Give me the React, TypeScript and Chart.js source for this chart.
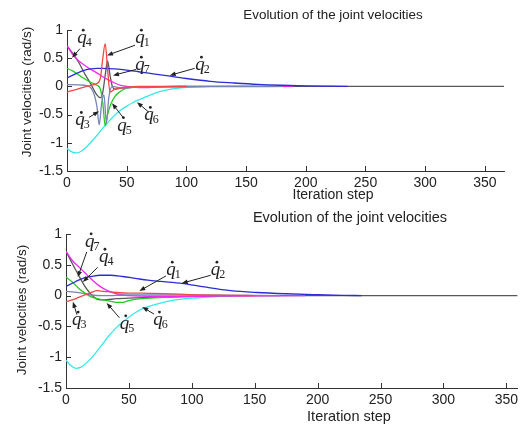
import React, { useEffect, useRef } from "react";
import { Chart, registerables } from "chart.js";

Chart.register(...registerables);

// ---------- text ----------
const TITLE = "Evolution of the joint velocities";
const X_LABEL = "Iteration step";
const Y_LABEL = "Joint velocities (rad/s)";

// ---------- ticks ----------
const Y_TICKS = [-1.5, -1, -0.5, 0, 0.5, 1];
const X_TICKS = [0, 50, 100, 150, 200, 250, 300, 350];
const SERIES_IDS = ["1", "2", "3", "4", "5", "6", "7"];

// ---------- top plot data ----------
const topQ1X = [0, 5, 10, 15, 20, 25, 28, 30, 32, 34, 36, 40, 45, 50, 60, 80, 100];
const topQ1Y = [-0.1, -0.07, -0.04, -0.01, 0.02, 0.05, 0.15, 0.5, 0.76, 0.3, -0.1, -0.05, -0.03, -0.015, 0, 0, 0];
const topQ2X = [0, 5, 10, 15, 20, 25, 30, 40, 50, 60, 70, 80, 90, 100, 120, 140, 160, 180, 200, 220, 235];
const topQ2Y = [0.15, 0.2, 0.25, 0.29, 0.31, 0.32, 0.32, 0.31, 0.29, 0.26, 0.23, 0.2, 0.17, 0.14, 0.09, 0.06, 0.035, 0.02, 0.01, 0.004, 0];
const topQ3X = [0, 15, 22, 25, 27, 29, 31, 33, 35, 38, 45, 60, 100, 180];
const topQ3Y = [0.03, 0.02, -0.1, -0.35, -0.68, -0.3, -0.15, -0.65, -0.2, 0, -0.03, -0.01, 0, 0];
const topQ4X = [0, 5, 10, 15, 20, 25, 30, 35, 40, 45, 50, 60, 80, 120, 190];
const topQ4Y = [0.72, 0.56, 0.45, 0.37, 0.3, 0.24, 0.17, 0.11, 0.06, 0.02, 0, -0.02, -0.01, -0.005, 0];
const topQ5X = [0, 5, 10, 15, 20, 25, 28, 30, 32, 34, 37, 40, 44, 50, 60, 80, 100];
const topQ5Y = [0.32, 0.27, 0.2, 0.13, 0.07, 0.02, -0.05, -0.3, -0.7, -0.5, -0.3, -0.18, -0.1, -0.03, -0.01, -0.005, 0];
const topQ6X = [0, 4, 8, 12, 16, 20, 25, 30, 35, 40, 45, 50, 55, 60, 70, 80, 90, 100, 120, 150];
const topQ6Y = [-1.1, -1.16, -1.18, -1.15, -1.08, -0.99, -0.87, -0.74, -0.62, -0.51, -0.42, -0.35, -0.29, -0.24, -0.15, -0.08, -0.04, -0.015, 0, 0];
const topQ7X = [0, 5, 10, 15, 20, 25, 28, 30, 32, 34, 36, 38, 40, 45, 50, 70, 100, 366];
const topQ7Y = [0.72, 0.58, 0.42, 0.22, 0.04, -0.15, -0.2, -0.1, 0.2, 0.45, 0.2, 0, -0.05, -0.03, -0.02, -0.01, 0, 0];

// ---------- bottom plot data ----------
const botQ1X = [0, 5, 10, 15, 20, 25, 30, 40, 50, 60, 70, 90, 100, 130, 150];
const botQ1Y = [-0.1, -0.07, -0.03, 0.01, 0.05, 0.08, 0.07, 0.05, 0.04, 0.04, 0.035, 0.025, 0.015, 0.005, 0];
const botQ2X = [0, 5, 10, 15, 20, 27, 35, 45, 55, 65, 75, 92, 110, 131, 152, 175, 200, 220, 235];
const botQ2Y = [0.15, 0.2, 0.25, 0.29, 0.31, 0.33, 0.33, 0.31, 0.28, 0.25, 0.23, 0.2, 0.14, 0.08, 0.05, 0.03, 0.015, 0.005, 0];
const botQ3X = [0, 5, 10, 15, 20, 30, 50, 100, 170];
const botQ3Y = [0.07, 0.06, 0.05, 0.03, 0.01, 0, 0.01, 0.01, 0];
const botQ4X = [0, 5, 11, 15, 20, 27, 33, 40, 50, 60, 80, 120, 160, 190];
const botQ4Y = [0.72, 0.57, 0.45, 0.37, 0.27, 0.15, 0.08, 0.03, 0, -0.01, -0.015, -0.01, -0.005, 0];
const botQ5X = [0, 5, 10, 15, 20, 25, 30, 35, 40, 45, 50, 60, 80, 100, 130];
const botQ5Y = [0.3, 0.22, 0.12, 0.04, -0.02, -0.05, -0.07, -0.09, -0.11, -0.11, -0.08, -0.05, -0.03, -0.015, 0];
const botQ6X = [0, 4, 8, 12, 17, 22, 27, 33, 40, 47, 54, 61, 70, 79, 90, 105, 120, 140];
const botQ6Y = [-1.05, -1.14, -1.18, -1.16, -1.08, -0.97, -0.84, -0.68, -0.52, -0.4, -0.29, -0.21, -0.15, -0.1, -0.06, -0.035, -0.015, 0];
const botQ7X = [0, 5, 10, 15, 20, 25, 30, 40, 50, 70, 100, 140, 359];
const botQ7Y = [0.72, 0.52, 0.33, 0.15, 0.02, -0.06, -0.07, -0.05, -0.04, -0.03, -0.01, 0, 0];

// ---------- annotation labels (series id, text x/y, arrow from x/y, arrow to x/y in data units) ----------
const TOP_NOTES: [string, number, number, number, number, number, number][] = [
  ["4", 15, 0.82, 10.9, 0.67, 4.2, 0.51],
  ["1", 63.7, 0.82, 57, 0.73, 33.5, 0.55],
  ["7", 63.7, 0.34, 57.8, 0.3, 38.5, 0.195],
  ["2", 114, 0.34, 107, 0.32, 86, 0.195],
  ["3", 13.4, -0.64, 18.4, -0.55, 26.8, -0.44],
  ["5", 48.6, -0.73, 47.7, -0.57, 37.7, -0.3],
  ["6", 71.2, -0.55, 68.7, -0.46, 58.6, -0.28],
];
const BOT_NOTES: [string, number, number, number, number, number, number][] = [
  ["7", 21.3, 0.84, 16.5, 0.71, 9.4, 0.3],
  ["4", 32.3, 0.59, 25.2, 0.46, 13.4, 0.22],
  ["1", 85.8, 0.38, 79.5, 0.32, 58.3, 0.075],
  ["2", 121.3, 0.38, 115, 0.33, 92, 0.2],
  ["3", 11, -0.43, 8.7, -0.31, 5.5, -0.1],
  ["5", 48.8, -0.49, 42.5, -0.36, 32.3, -0.12],
  ["6", 75.6, -0.43, 70, -0.3, 60.6, -0.185],
];

// ---------- styles ----------
const COLORS = ["#f04848", "#2c2cd8", "#7884b4", "#f028f0", "#22cc22", "#38e8e8", "#585858"];
const AXIS_COLOR = "#333333";
const TEXT_COLOR = "#222222";
const SANS = "'Liberation Sans', Arial, sans-serif";
const SERIF = "'Liberation Serif', 'Times New Roman', serif";

type Layout = {
  width: number;
  height: number;
  top: number;
  left: number;
  xMax: number;
  padTop: number;
  padRight: number;
  xAxisH: number;
  yAxisW: number;
  title: [number, number, number];
  xlab: [number, number, number];
  ylab: [number, number, number];
};

const TOP_LAYOUT: Layout = {
  width: 522, height: 205, top: 0, left: 0, xMax: 366,
  padTop: 30, padRight: 18, xAxisH: 34, yAxisW: 67,
  title: [333, 15, 13.4], xlab: [333, 195, 14], ylab: [27, 92, 13.5],
};
const BOT_LAYOUT: Layout = {
  width: 522, height: 223, top: 205, left: 0, xMax: 359,
  padTop: 29, padRight: 0, xAxisH: 40, yAxisW: 66,
  title: [350, 13, 14.5], xlab: [349, 212, 14.5], ylab: [22, 105, 13.5],
};

function drawQ(ctx: CanvasRenderingContext2D, cx: number, cy: number, n: string) {
  ctx.font = `italic 19px ${SERIF}`;
  ctx.textAlign = "left";
  ctx.textBaseline = "alphabetic";
  const w = ctx.measureText("q").width;
  const x0 = cx - (w + 6) / 2;
  const base = cy + 3;
  ctx.fillText("q", x0, base);
  ctx.beginPath();
  ctx.arc(x0 + w * 0.64, base - 13, 1.4, 0, Math.PI * 2);
  ctx.fill();
  ctx.font = `12px ${SERIF}`;
  ctx.fillText(n, x0 + w - 1, base + 3);
}

function drawArrow(ctx: CanvasRenderingContext2D, x1: number, y1: number, x2: number, y2: number) {
  const a = Math.atan2(y2 - y1, x2 - x1);
  ctx.beginPath();
  ctx.moveTo(x1, y1);
  ctx.lineTo(x2 - 3 * Math.cos(a), y2 - 3 * Math.sin(a));
  ctx.stroke();
  const L = 6, W = 2.3;
  ctx.beginPath();
  ctx.moveTo(x2, y2);
  ctx.lineTo(x2 - L * Math.cos(a) + W * Math.sin(a), y2 - L * Math.sin(a) - W * Math.cos(a));
  ctx.lineTo(x2 - L * Math.cos(a) - W * Math.sin(a), y2 - L * Math.sin(a) + W * Math.cos(a));
  ctx.closePath();
  ctx.fill();
}

function makeChart(
  canvas: HTMLCanvasElement,
  xsList: number[][],
  ysList: number[][],
  notes: [string, number, number, number, number, number, number][],
  L: Layout
) {
  const datasets = xsList.map((xs, i) => ({
    label: "q" + SERIES_IDS[i],
    data: xs.map((x, j) => ({ x, y: ysList[i][j] })),
    borderColor: COLORS[i],
    backgroundColor: COLORS[i],
    borderWidth: 1.3,
    pointRadius: 0,
    cubicInterpolationMode: "monotone" as const,
    fill: false,
  }));

  const overlay = {
    id: "overlay",
    afterDraw(chart: any) {
      const ctx: CanvasRenderingContext2D = chart.ctx;
      const xs = chart.scales.x;
      const ys = chart.scales.y;
      const a = chart.chartArea;
      ctx.save();
      // inward tick marks
      ctx.strokeStyle = AXIS_COLOR;
      ctx.lineWidth = 1;
      ctx.beginPath();
      for (const v of X_TICKS) {
        if (v > L.xMax) continue;
        const p = Math.round(xs.getPixelForValue(v)) + 0.5;
        ctx.moveTo(p, a.bottom);
        ctx.lineTo(p, a.bottom - 5);
      }
      for (const v of Y_TICKS) {
        const p = Math.round(ys.getPixelForValue(v)) + 0.5;
        ctx.moveTo(a.left, p);
        ctx.lineTo(a.left + 5, p);
      }
      ctx.stroke();

      // title and axis labels
      ctx.fillStyle = TEXT_COLOR;
      ctx.textAlign = "center";
      ctx.textBaseline = "middle";
      ctx.font = `${L.title[2]}px ${SANS}`;
      ctx.fillText(TITLE, L.title[0], L.title[1]);
      ctx.font = `${L.xlab[2]}px ${SANS}`;
      ctx.fillText(X_LABEL, L.xlab[0], L.xlab[1]);
      ctx.save();
      ctx.translate(L.ylab[0], L.ylab[1]);
      ctx.rotate(-Math.PI / 2);
      ctx.font = `${L.ylab[2]}px ${SANS}`;
      ctx.fillText(Y_LABEL, 0, 0);
      ctx.restore();

      // annotations
      ctx.strokeStyle = "#222";
      ctx.fillStyle = "#222";
      ctx.lineWidth = 1;
      for (const [n, tx, ty, fx, fy, px, py] of notes) {
        drawArrow(
          ctx,
          xs.getPixelForValue(fx), ys.getPixelForValue(fy),
          xs.getPixelForValue(px), ys.getPixelForValue(py)
        );
        drawQ(ctx, xs.getPixelForValue(tx), ys.getPixelForValue(ty), n);
      }
      ctx.restore();
    },
  };

  return new Chart(canvas, {
    type: "line",
    data: { datasets },
    plugins: [overlay],
    options: {
      animation: false,
      responsive: false,
      maintainAspectRatio: false,
      layout: { padding: { top: L.padTop, right: L.padRight, left: 0, bottom: 0 } },
      plugins: { legend: { display: false }, tooltip: { enabled: false }, title: { display: false } },
      scales: {
        x: {
          type: "linear",
          min: 0,
          max: L.xMax,
          afterFit: (s: any) => { s.height = L.xAxisH; },
          ticks: {
            stepSize: 50,
            includeBounds: false,
            padding: 4,
            maxRotation: 0,
            autoSkip: false,
            color: TEXT_COLOR,
            font: { family: SANS, size: 14 },
          },
          grid: { display: false, drawTicks: false },
          border: { display: true, color: AXIS_COLOR, width: 1 },
        },
        y: {
          type: "linear",
          min: -1.5,
          max: 1,
          afterFit: (s: any) => { s.width = L.yAxisW; },
          ticks: {
            stepSize: 0.5,
            padding: 4,
            autoSkip: false,
            color: TEXT_COLOR,
            font: { family: SANS, size: 14 },
            callback: (v: any) => String(Number(v)),
          },
          grid: { display: false, drawTicks: false },
          border: { display: true, color: AXIS_COLOR, width: 1 },
        },
      },
    } as any,
  });
}

export default function App() {
  const topRef = useRef<HTMLCanvasElement | null>(null);
  const botRef = useRef<HTMLCanvasElement | null>(null);

  useEffect(() => {
    const c1 = makeChart(
      topRef.current!,
      [topQ1X, topQ2X, topQ3X, topQ4X, topQ5X, topQ6X, topQ7X],
      [topQ1Y, topQ2Y, topQ3Y, topQ4Y, topQ5Y, topQ6Y, topQ7Y],
      TOP_NOTES,
      TOP_LAYOUT
    );
    const c2 = makeChart(
      botRef.current!,
      [botQ1X, botQ2X, botQ3X, botQ4X, botQ5X, botQ6X, botQ7X],
      [botQ1Y, botQ2Y, botQ3Y, botQ4Y, botQ5Y, botQ6Y, botQ7Y],
      BOT_NOTES,
      BOT_LAYOUT
    );
    return () => {
      c1.destroy();
      c2.destroy();
    };
  }, []);

  return (
    <div style={{ position: "absolute", left: 0, top: 0, width: 522, height: 428, background: "#fff", overflow: "hidden" }}>
      <canvas
        ref={topRef}
        width={TOP_LAYOUT.width}
        height={TOP_LAYOUT.height}
        style={{ position: "absolute", left: TOP_LAYOUT.left, top: TOP_LAYOUT.top, width: TOP_LAYOUT.width, height: TOP_LAYOUT.height, display: "block" }}
      />
      <canvas
        ref={botRef}
        width={BOT_LAYOUT.width}
        height={BOT_LAYOUT.height}
        style={{ position: "absolute", left: BOT_LAYOUT.left, top: BOT_LAYOUT.top, width: BOT_LAYOUT.width, height: BOT_LAYOUT.height, display: "block" }}
      />
    </div>
  );
}
